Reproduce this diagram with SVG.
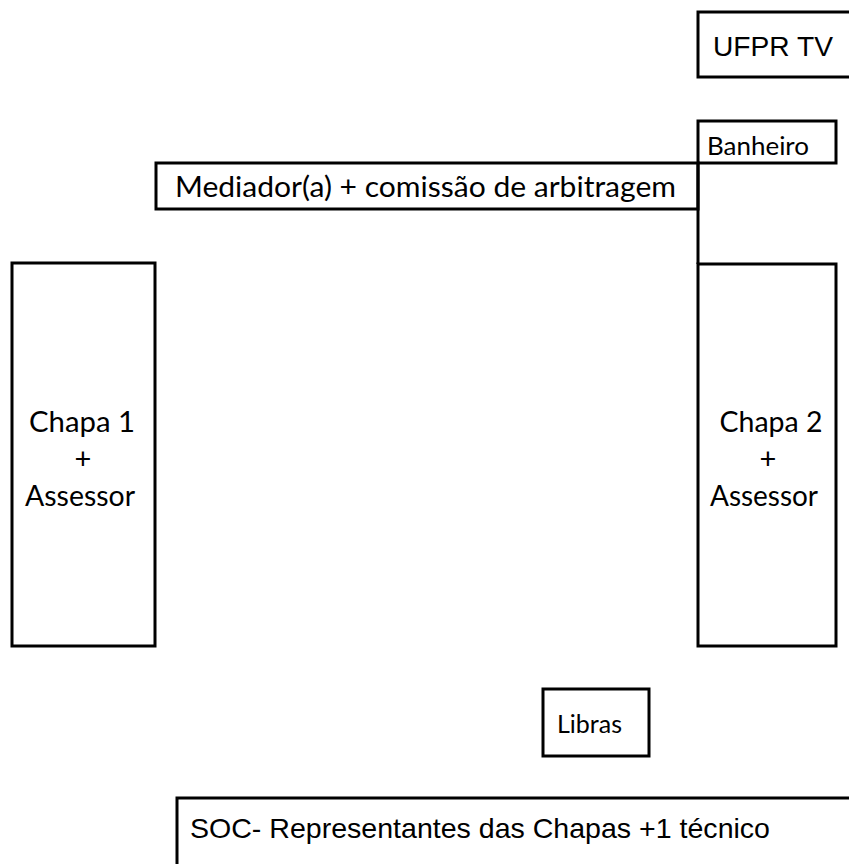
<svg xmlns="http://www.w3.org/2000/svg" width="849" height="864" viewBox="0 0 849 864">
<style>
.b{fill:#fff;stroke:#000;stroke-width:3}
.c{font-family:"Lato","Open Sans","Noto Sans",sans-serif;fill:#000}
.a{font-family:"Liberation Sans",Arial,sans-serif;fill:#000}
.l{fill:none;stroke:#000;stroke-width:3}
</style>
<rect width="849" height="864" fill="#fff"/>
<g id="ufpr-tv">
<rect class="b" x="698" y="12" width="160" height="65"/>
<text class="a" x="713" y="56" font-size="28" textLength="120" lengthAdjust="spacingAndGlyphs">UFPR TV</text>
</g>
<g id="banheiro">
<rect class="b" x="698" y="121" width="138" height="42"/>
<text class="c" x="707" y="155" font-size="25" textLength="102" lengthAdjust="spacingAndGlyphs">Banheiro</text>
</g>
<g id="mediador">
<rect class="b" x="156" y="163" width="542" height="46"/>
<text class="c" x="175" y="197" font-size="29" textLength="501" lengthAdjust="spacingAndGlyphs">Mediador(a) + comissão de arbitragem</text>
</g>
<g id="connectors">
<line class="l" x1="698" y1="163" x2="698" y2="264"/>
</g>
<g id="chapa1">
<rect class="b" x="12" y="263" width="143" height="383"/>
<text class="c" x="82" y="432" font-size="29" text-anchor="middle" textLength="106" lengthAdjust="spacingAndGlyphs">Chapa 1</text>
<text class="c" x="83" y="469" font-size="29" text-anchor="middle">+</text>
<text class="c" x="80" y="506" font-size="29" text-anchor="middle" textLength="110" lengthAdjust="spacingAndGlyphs">Assessor</text>
</g>
<g id="chapa2">
<rect class="b" x="698" y="264" width="138" height="382"/>
<text class="c" x="771" y="432" font-size="29" text-anchor="middle" textLength="103" lengthAdjust="spacingAndGlyphs">Chapa 2</text>
<text class="c" x="768" y="469" font-size="29" text-anchor="middle">+</text>
<text class="c" x="764" y="506" font-size="29" text-anchor="middle" textLength="108" lengthAdjust="spacingAndGlyphs">Assessor</text>
</g>
<g id="libras">
<rect class="b" x="543" y="689" width="106" height="67"/>
<text class="c" x="557" y="733" font-size="25" textLength="65" lengthAdjust="spacingAndGlyphs">Libras</text>
</g>
<g id="soc">
<rect class="b" x="177" y="798" width="700" height="100"/>
<text class="a" x="190" y="838" font-size="28" textLength="580" lengthAdjust="spacingAndGlyphs">SOC- Representantes das Chapas +1 técnico</text>
</g>
</svg>
